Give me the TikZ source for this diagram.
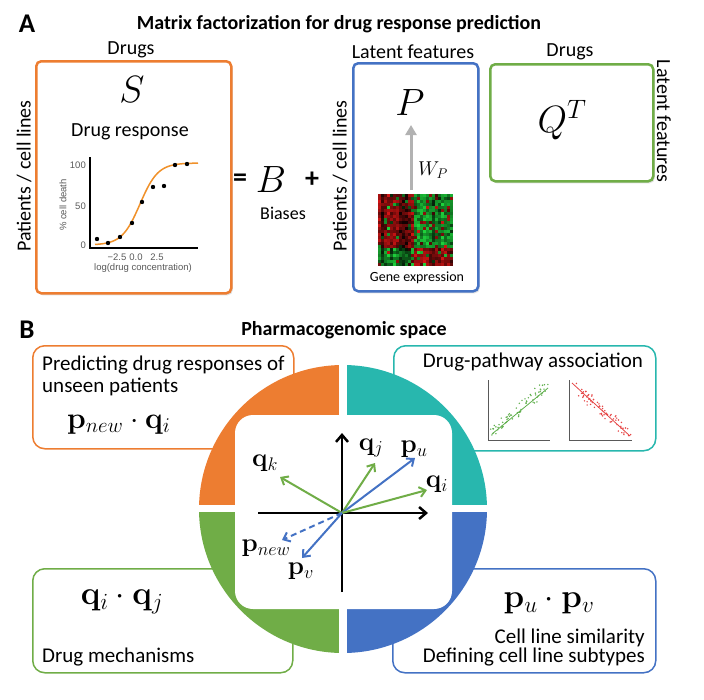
\documentclass[tikz,border=0pt]{standalone}
\usepackage{fix-cm}
\usepackage{amsmath,amssymb}
\usepackage[no-math]{fontspec}
\setmainfont{Carlito}
\newfontfamily\plotfont{Liberation Sans}
\usepackage{tikz}
\usetikzlibrary{arrows.meta,positioning,calc,shadows}
\definecolor{orgc}{RGB}{237,125,49}
\definecolor{tealc}{RGB}{40,183,174}
\definecolor{grnc}{RGB}{112,173,71}
\definecolor{bluc}{RGB}{68,114,196}
\definecolor{plotgray}{RGB}{90,90,90}
\definecolor{hmred}{RGB}{210,20,20}
\definecolor{hmgreen}{RGB}{30,210,60}
\definecolor{scgreen}{RGB}{95,175,75}
\definecolor{scred}{RGB}{230,70,70}

\begin{document}
\begin{tikzpicture}[x=1pt,y=-1pt,
    mbox/.style={rectangle,rounded corners=5pt,draw=#1,line width=2.5pt,fill=white,anchor=north west,
        drop shadow={opacity=0.25,shadow xshift=1.5pt,shadow yshift=-2pt}},
    cbox/.style={rectangle,rounded corners=12pt,draw=#1,line width=1.5pt,fill=white,anchor=north west},
    lbl/.style={font=\fontsize{20}{24}\selectfont,inner sep=0pt},
    txtb/.style={font=\fontsize{21}{22}\selectfont,inner sep=0pt},
    hdr/.style={font=\bfseries\fontsize{20}{24}\selectfont,inner sep=0pt},
    panel/.style={font=\bfseries\fontsize{27}{28}\selectfont,inner sep=0pt},
    big/.style={font=\fontsize{38}{40}\selectfont,inner sep=0pt},
    vmath/.style={font=\fontsize{26}{28}\selectfont,inner sep=0pt},
    pmath/.style={font=\fontsize{33}{36}\selectfont,inner sep=0pt},
    ticklbl/.style={font=\plotfont\fontsize{9.5}{10}\selectfont,text=plotgray,inner sep=0pt},
    vec/.style={-{Straight Barb[length=6pt,width=10pt]},line width=2pt,#1},
    ax/.style={-{Straight Barb[length=7pt,width=12pt]},line width=2.5pt,black}
]
\useasboundingbox (0,0) rectangle (704,699);
\pgfmathsetseed{7}

% ---- A: matrix factorization
\node[panel] (labA) at (27,24) {A};
\node[hdr] (titA) at (339,24) {Matrix factorization for drug response prediction};

\node[lbl] (drugsS) at (131,50) {Drugs};
\node[mbox=orgc,minimum width=195pt,minimum height=232pt] (sbox) at (35,60) {};
\node[lbl,rotate=90] (patS) at (24,176) {Patients / cell lines};
\node[big] (symS) at (132,90) {$S$};
\node[lbl] (resp) at (130,132) {Drug response};

\coordinate (porg) at (90,248);
\coordinate (ptop) at (90,157);
\coordinate (prgt) at (198,248);
\draw[line width=1.3pt] (ptop) -- (porg) -- (prgt);
\draw[orgc!85!yellow,line width=1.5pt] plot[domain=95:198,samples=60,smooth] (\x,{245-82/(1+exp(-(\x-140)/9))});
\foreach \px/\py in {97/239,108/243,120/237,132/223,142/202,153/187,164/186,175/165,187/164}
    \fill (\px,\py) circle[radius=2.2];
\node[ticklbl,anchor=east] (y100) at (86,165) {100};
\node[ticklbl,anchor=east] (y50) at (86,206) {50};
\node[ticklbl,anchor=east] (y0) at (86,245) {0};
\node[ticklbl] (xm) at (117,257) {−2.5};
\node[ticklbl] (xz) at (136,257) {0.0};
\node[ticklbl] (xp) at (157,257) {2.5};
\node[ticklbl] (xlab) at (143,268) {log(drug concentration)};
\node[ticklbl,rotate=90] (ylab) at (63,205) {\% cell death};

\node[font=\bfseries\fontsize{28}{30}\selectfont,inner sep=0pt] (eq) at (240,180) {=};
\node[big] (symB) at (271,180) {$B$};
\node[font=\bfseries\fontsize{28}{30}\selectfont,inner sep=0pt] (plus) at (312,180) {+};
\node[font=\fontsize{18}{20}\selectfont,inner sep=0pt] (bias) at (283,213) {Biases};

\node[lbl,rotate=90] (patP) at (340,176) {Patients / cell lines};
\node[lbl] (latP) at (413,52) {Latent features};
\node[mbox=bluc,minimum width=125pt,minimum height=228pt] (pbox) at (352,62) {};
\node[big] (symP) at (410,103) {$P$};
\foreach \i in {0,...,24}{
    \pgfmathsetmacro\colv{25+55*rnd}
    \foreach \j in {0,...,23}{
        \pgfmathtruncatemacro\lvl{max(8,min(100,\colv+30*rand))}
        \pgfmathtruncatemacro\zone{((\i<12)&&(\j<18))||((\i>=12)&&(\j>=18))}
        \pgfmathtruncatemacro\hue{\zone==1 ? (rnd<0.88) : (rnd<0.12)}
        \ifnum\hue=1 \def\hcol{hmred}\else\def\hcol{hmgreen}\fi
        \fill[\hcol!\lvl!black] (378+3*\i,194+3*\j) rectangle ++(3,3);
    }
}
\coordinate (wbot) at (411,190);
\coordinate (wtop) at (411,125);
\draw[-{Triangle[length=10pt,width=11pt]},line width=3pt,gray!60] (wbot) -- (wtop);
\node[font=\fontsize{20}{22}\selectfont,inner sep=0pt] (wp) at (433,170) {$W_P$};
\node[font=\fontsize{14}{16}\selectfont,inner sep=0pt] (gexp) at (417,278) {Gene expression};

\node[lbl] (drugsQ) at (570,52) {Drugs};
\node[mbox=grnc,minimum width=163pt,minimum height=117pt] (qbox) at (489,63) {};
\node[big] (symQ) at (562,120) {$Q^T$};
\node[lbl,rotate=-90] (latQ) at (664,121) {Latent features};

% ---- B: pharmacogenomic space
\node[panel] (labB) at (27,330) {B};
\node[hdr] (titB) at (344,330) {Pharmacogenomic space};

\node[cbox=orgc,minimum width=261pt,minimum height=103pt] (unseen) at (32,345) {};
\node[txtb,anchor=base west] (unseen1) at (42,370) {Predicting drug responses of};
\node[txtb,anchor=base west] (unseen2) at (42,392) {unseen patients};
\node[pmath,font=\fontsize{30}{33}\selectfont,anchor=base west] (pnq) at (67,428) {$\mathbf{p}_{new}\cdot\mathbf{q}_i$};

\node[cbox=tealc,minimum width=262pt,minimum height=105pt] (assoc) at (393,345) {};
\node[txtb] (dpa) at (533,362) {Drug-pathway association};
\coordinate (sa1) at (488,380); \coordinate (so1) at (488,440); \coordinate (se1) at (550,440);
\coordinate (sa2) at (569,380); \coordinate (so2) at (569,440); \coordinate (se2) at (632,440);
\draw[gray!70!black,line width=1pt] (sa1) -- (so1) -- (se1);
\draw[gray!70!black,line width=1pt] (sa2) -- (so2) -- (se2);
\foreach \n in {1,...,70}{
    \pgfmathsetmacro\t{rnd}
    \fill[scgreen] ({493+54*\t+4*rand},{432-46*\t+5*rand}) circle[radius=0.8];
    \pgfmathsetmacro\t{rnd}
    \fill[scred] ({573+56*\t+4*rand},{386+48*\t+5*rand}) circle[radius=0.8];
}
\draw[scgreen,line width=0.8pt] (492,434) -- (548,388);
\draw[scred,line width=0.8pt] (572,383) -- (630,436);

\node[cbox=grnc,minimum width=260pt,minimum height=104pt] (mechbox) at (32,568) {};
\node[pmath] (qq) at (122,602) {$\mathbf{q}_i\cdot\mathbf{q}_j$};
\node[txtb,anchor=base west] (mech) at (42,662) {Drug mechanisms};

\node[cbox=bluc,minimum width=263pt,minimum height=104pt] (simbox) at (392,568) {};
\node[pmath] (pp) at (549,603) {$\mathbf{p}_u\cdot\mathbf{p}_v$};
\node[txtb,anchor=base east] (sim) at (645,643) {Cell line similarity};
\node[txtb,anchor=base east] (sub) at (645,662) {Defining cell line subtypes};

\coordinate (rc) at (343,509);
\begin{scope}
    \clip (rc) circle[radius=144];
    \fill[orgc] (rc) rectangle ++(-150,-150);
    \fill[tealc] (rc) rectangle ++(150,-150);
    \fill[grnc] (rc) rectangle ++(-150,150);
    \fill[bluc] (rc) rectangle ++(150,150);
\end{scope}
\fill[white,rounded corners=18pt] (235,415) rectangle (452,609);
\fill[white] (339,360) rectangle (347,660);
\fill[white] (195,505) rectangle (492,512);

\coordinate (o) at (342,513);
\coordinate (xbeg) at (258,513);
\coordinate (xend) at (428,513);
\coordinate (ybeg) at (342,592);
\coordinate (yend) at (342,433);
\draw[ax] (xbeg) -- (xend);
\draw[ax] (ybeg) -- (yend);

\coordinate (tqk) at (280,477);
\coordinate (tqj) at (375,463);
\coordinate (tpu) at (415,458);
\coordinate (tqi) at (427,490);
\coordinate (tpn) at (282,540);
\coordinate (tpv) at (302,558);
\draw[vec=grnc] (o) -- (tqk);
\draw[vec=grnc] (o) -- (tqj);
\draw[vec=bluc] (o) -- (tpu);
\draw[vec=grnc] (o) -- (tqi);
\draw[vec=bluc,dashed,dash pattern=on 6pt off 4pt] (o) -- (tpn);
\draw[vec=bluc] (o) -- (tpv);
\node[vmath] (lqk) at (265,463) {$\mathbf{q}_k$};
\node[vmath] (lqj) at (371,448) {$\mathbf{q}_j$};
\node[vmath] (lpu) at (414,449) {$\mathbf{p}_u$};
\node[vmath] (lqi) at (437,484) {$\mathbf{q}_i$};
\node[vmath] (lpn) at (266,548) {$\mathbf{p}_{new}$};
\node[vmath] (lpv) at (301,571) {$\mathbf{p}_v$};

\end{tikzpicture}
\end{document}
